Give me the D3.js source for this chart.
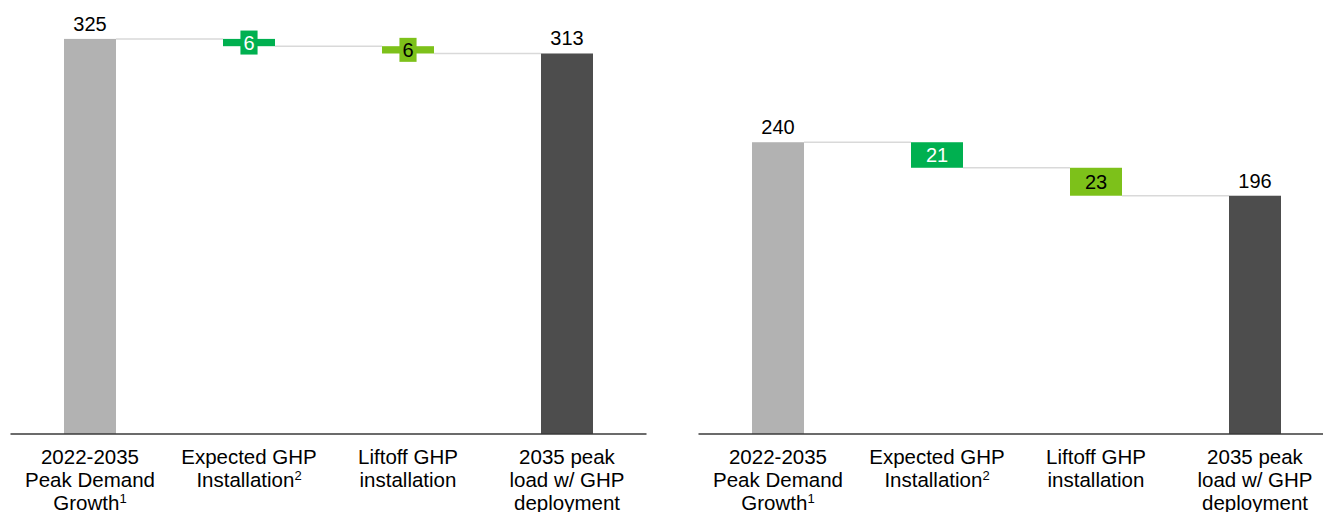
<!DOCTYPE html>
<html>
<head>
<meta charset="utf-8">
<script src="https://cdn.jsdelivr.net/npm/d3@7"></script>
<style>
  html, body { margin: 0; padding: 0; background: #ffffff; }
  svg { display: block; font-family: "Liberation Sans", Arial, sans-serif; }
</style>
</head>
<body>
<svg id="chart" width="1323" height="512"></svg>
<script>
// ---- data ----
const categories = [
  ["2022-2035", "Peak Demand", "Growth"],
  ["Expected GHP", "Installation"],
  ["Liftoff GHP", "installation"],
  ["2035 peak", "load w/ GHP", "deployment"]
];
const footnotes = ["1", "2", "", ""];
const kinds = ["total", "delta", "delta", "total"];
const leftValues = [325, -6, -6, 313];
const rightValues = [240, -21, -23, 196];
const barColors = ["#b2b2b2", "#00b050", "#7dc11a", "#4d4d4d"];
const labelColors = ["#000000", "#ffffff", "#000000", "#000000"];

// ---- layout ----
const svg = d3.select("#chart");
const baseY = 434;
const y = d3.scaleLinear().domain([0, 357]).range([baseY, 0]);

function drawChart(values, x0, x1, clipRight) {
  const g = svg.append("g");
  const x = d3.scaleBand()
    .domain(d3.range(categories.length))
    .range([x0, x1])
    .paddingInner(0.673)
    .paddingOuter(0.3365);

  // compute waterfall segments
  let running = 0;
  const segs = values.map((v, i) => {
    let top, bottom, endLevel;
    if (kinds[i] === "total") {
      top = v; bottom = 0; running = v; endLevel = v;
    } else {
      const start = running;
      running = running + v;
      top = Math.max(start, running);
      bottom = Math.min(start, running);
      endLevel = running;
    }
    return { i, v, top, bottom, endLevel };
  });

  // connectors
  for (let i = 0; i < segs.length - 1; i++) {
    const lvl = segs[i].endLevel;
    g.append("line")
      .attr("x1", x(i) + x.bandwidth())
      .attr("x2", x(i + 1))
      .attr("y1", y(lvl)).attr("y2", y(lvl))
      .attr("stroke", "#d9d9d9")
      .attr("stroke-width", 1.5);
  }

  // bars
  g.selectAll("rect.bar").data(segs).enter().append("rect")
    .attr("class", "bar")
    .attr("x", d => x(d.i))
    .attr("width", x.bandwidth())
    .attr("y", d => y(d.top))
    .attr("height", d => y(d.bottom) - y(d.top))
    .attr("fill", d => barColors[d.i]);

  // labels
  segs.forEach(d => {
    const cx = x(d.i) + x.bandwidth() / 2;
    const txt = String(Math.abs(d.v));
    if (kinds[d.i] === "total") {
      g.append("text")
        .attr("x", cx).attr("y", y(d.top) - 8)
        .attr("text-anchor", "middle")
        .attr("font-size", 20)
        .attr("fill", labelColors[d.i])
        .text(txt);
    } else {
      const cy = (y(d.top) + y(d.bottom)) / 2;
      const h = y(d.bottom) - y(d.top);
      const t = g.append("text")
        .attr("x", cx).attr("y", cy)
        .attr("dy", "0.36em")
        .attr("text-anchor", "middle")
        .attr("font-size", 20)
        .attr("fill", labelColors[d.i])
        .text(txt);
      if (h < 24) {
        const bb = t.node().getBBox();
        g.insert("rect", function () { return t.node(); })
          .attr("x", bb.x - 3).attr("width", bb.width + 6)
          .attr("y", cy - 12).attr("height", 24)
          .attr("fill", barColors[d.i]);
      }
    }
  });

  // axis line
  g.append("line")
    .attr("x1", x0).attr("x2", Math.min(x1, clipRight))
    .attr("y1", baseY).attr("y2", baseY)
    .attr("stroke", "#3a3a3a").attr("stroke-width", 1.3);

  // category labels
  categories.forEach((lines, i) => {
    const cx = x(i) + x.bandwidth() / 2;
    const t = g.append("text")
      .attr("text-anchor", "middle")
      .attr("font-size", 20.5)
      .attr("fill", "#000");
    lines.forEach((ln, k) => {
      const ts = t.append("tspan")
        .attr("x", cx)
        .attr("y", 464 + k * 23)
        .text(ln);
    });
    // footnote superscript on line index 1 for col 1, line 2 for col 0
    if (footnotes[i]) {
      const lastIdx = lines.length - 1;
      const tsp = t.selectAll("tspan").filter((_, k) => k === lastIdx);
      tsp.append("tspan")
        .attr("font-size", 13)
        .attr("dy", -7)
        .text(footnotes[i]);
    }
  });
}

drawChart(leftValues, 10.5, 646.5, 655);
drawChart(rightValues, 698.5, 1334.5, 1323);
</script>
</body>
</html>
